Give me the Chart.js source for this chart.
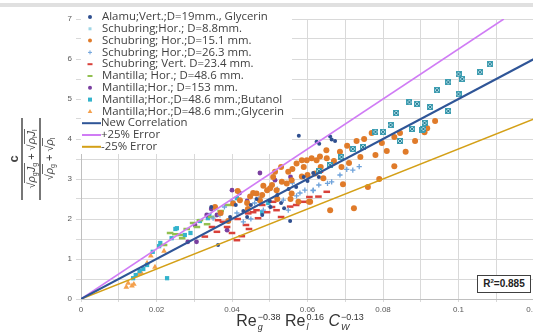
<!DOCTYPE html>
<html><head><meta charset="utf-8">
<script src="https://cdn.jsdelivr.net/npm/chart.js@4.4.1/dist/chart.umd.min.js"></script>
<style>
html,body{margin:0;padding:0;background:#fff;overflow:hidden;width:533px;height:332px;}
#wrap{position:relative;width:533px;height:332px;overflow:hidden;}
canvas{position:absolute;left:0;top:0;}
#band{position:absolute;left:0;top:3px;width:533px;height:4px;background:#e0e0e0;}
#yt{position:absolute;left:-10px;top:134px;width:84px;height:50px;transform:rotate(-90deg);font-family:'Liberation Sans',sans-serif;color:#444;text-align:center;font-size:11px;}
#yt .r1{height:14px;line-height:14px;font-weight:bold;font-size:13px;}
#yt .bar{height:0;border-top:2px solid #777;margin:0 1px;}
#yt .r2,#yt .r3{height:16px;line-height:17px;white-space:nowrap;}
#yt sub{font-size:7px;vertical-align:-2px;line-height:0;}
#yt .ov{border-top:1px solid #666;}
#xt{position:absolute;top:312px;left:190px;width:220px;text-align:center;font-family:'Liberation Sans',sans-serif;font-size:16px;color:#333;white-space:nowrap;line-height:16px;}
#xt .ss{display:inline-flex;flex-direction:column;font-size:9px;line-height:10px;vertical-align:middle;margin-left:1px;text-align:left;}
#xt .ss span:last-child{font-style:italic;}
#r2{position:absolute;left:477px;top:275px;width:52px;height:16px;border:1.5px solid #404040;background:#fff;font-family:'Liberation Sans',sans-serif;font-weight:bold;font-size:10px;line-height:16px;text-align:center;color:#222;}
#r2 sup{font-size:6px;line-height:0;}
</style></head>
<body>
<div id="wrap">
<canvas id="c" width="560" height="332"></canvas>
<div id="band"></div>
<div id="yt">
 <div class="r1">c</div>
 <div class="bar"></div>
 <div class="r2">√<span class="ov"><i>ρ</i><sub>g</sub><i>J</i><sub>g</sub></span> + √<span class="ov"><i>ρ</i><sub>l</sub><i>J</i><sub>l</sub></span></div>
 <div class="bar"></div>
 <div class="r3">√<span class="ov"><i>ρ</i><sub>g</sub></span> + √<span class="ov"><i>ρ</i><sub>l</sub></span></div>
</div>
<div id="xt">Re<span class="ss"><span>−0.38</span><span>g</span></span> Re<span class="ss"><span>0.16</span><span>l</span></span> <i>C</i><span class="ss"><span>−0.13</span><span>W</span></span></div>
<div id="r2">R<sup>2</sup>=0.885</div>
</div>
<script>
// ---------- DATA ----------
const seriesNames = [
  'Alamu;Vert.;D=19mm., Glycerin',
  'Schubring;Hor.; D=8.8mm.',
  'Schubring; Hor.;D=15.1 mm.',
  'Schubring; Hor.;D=26.3 mm.',
  'Schubring; Vert. D=23.4 mm.',
  'Mantilla; Hor.; D=48.6 mm.',
  'Mantilla;Hor.; D=153 mm.',
  'Mantilla;Hor.;D=48.6 mm.;Butanol',
  'Mantilla;Hor.;D=48.6 mm.;Glycerin'
];
const lineNames = ['New Correlation', '+25% Error', '-25% Error'];

const alamu = [[0.0363,1.35],[0.048,2.1],[0.0554,1.95],[0.0538,2.27],[0.0577,4.08],[0.0624,3.93],[0.0631,3.88],
  [0.066,4.06],[0.0664,3.99],[0.0673,3.95],[0.0395,2.05],[0.043,2.2],[0.045,2.35],[0.0465,2.5],[0.05,2.45],
  [0.052,2.6],[0.055,2.75],[0.057,2.8],[0.06,2.95],[0.059,3.05],[0.0615,3.15],[0.063,3.05],[0.041,2.35],
  [0.044,2.05],[0.0502,2.3],[0.053,2.4],[0.0345,2.3]];
const schub88 = [[0.087,4.92],[0.089,4.88],[0.0835,4.65],[0.082,4.35],[0.08,4.18],[0.078,4.18],[0.0877,4.25],
  [0.0845,3.95],[0.0904,4.23],[0.0747,3.8],[0.072,3.75],[0.1083,5.87],[0.1057,5.67],[0.1,5.62],[0.101,5.5],
  [0.0973,5.42],[0.0943,5.22],[0.1,5.12],[0.0925,4.8],[0.0973,4.7],[0.091,4.4],[0.0907,4.25],[0.069,3.55],
  [0.066,3.35],[0.063,3.2]];
const schub151 = [[0.039,1.95],[0.0442,2.25],[0.048,2.6],[0.0506,2.85],[0.0474,2.47],[0.0493,2.72],[0.0456,2.65],
  [0.0509,3.05],[0.044,2.4],[0.0403,2.39],[0.0421,2.47],[0.0448,2.56],[0.0465,2.64],[0.0483,2.83],[0.0501,2.77],
  [0.0518,2.72],[0.0558,2.64],[0.0576,2.43],[0.0607,2.43],[0.0514,3.18],[0.0532,2.93],[0.0549,3.18],[0.0571,3.39],
  [0.0585,3.47],[0.0598,3.47],[0.0611,3.52],[0.0624,3.47],[0.0633,3.56],[0.0651,3.52],[0.0545,2.89],[0.0558,2.97],
  [0.0585,3.06],[0.06,3.1],[0.062,3.14],[0.0642,3.02],[0.065,3.72],[0.0686,3.68],[0.0718,3.75],[0.0705,3.83],
  [0.073,3.95],[0.075,4.0],[0.077,4.15],[0.0797,3.9],[0.083,4.05],[0.0845,4.15],[0.0885,3.95],[0.086,3.68],
  [0.083,3.32],[0.079,3.0],[0.076,2.8],[0.0694,2.87],[0.066,2.22],[0.0723,2.27],[0.0604,2.43],[0.0938,4.45],
  [0.0917,4.27],[0.091,4.17],[0.067,3.45],[0.069,3.3],[0.071,3.4],[0.074,3.55],[0.078,3.6],[0.081,3.7],
  [0.0355,2.3],[0.037,2.15],[0.0415,2.7],[0.053,3.3],[0.056,3.25],[0.059,3.3],[0.0635,3.3],[0.052,2.5],[0.0555,2.5]];
const schub263 = [[0.0704,3.24],[0.0737,3.31],[0.072,3.22],[0.0686,3.1],[0.0653,2.89],[0.0615,2.71],[0.0664,2.93],
  [0.0368,2.1],[0.035,2.02],[0.0413,2.15],[0.046,2.4],[0.043,1.93],[0.0501,2.31],[0.0536,2.47],[0.0571,2.58],
  [0.0593,2.72],[0.0549,2.22],[0.0483,2.22],[0.0615,2.72],[0.038,2.3],[0.04,2.45],[0.052,2.75],[0.056,2.9],
  [0.058,2.65],[0.063,2.85],[0.045,2.0],[0.0476,2.55]];
const schubVert = [[0.0469,2.02],[0.0437,1.85],[0.0426,1.57],[0.0413,1.47],[0.0387,1.8],[0.0363,1.97],[0.0347,1.8],
  [0.0456,2.17],[0.0493,2.17],[0.0506,2.3],[0.048,2.35],[0.0376,1.93],[0.0465,2.22],[0.0518,2.22],[0.0554,2.31],
  [0.0509,2.43],[0.0443,2.14],[0.0589,2.43],[0.0629,2.56],[0.0651,2.68],[0.0633,3.18],[0.04,1.65],[0.0445,1.75],
  [0.053,2.05],[0.057,2.35],[0.0605,2.55],[0.0415,2.0],[0.0328,1.56],[0.036,1.68]];
const mant486 = [[0.025,1.62],[0.0307,1.8],[0.0268,1.52],[0.0334,1.87],[0.0315,1.97],[0.0297,1.9],[0.0262,1.6],
  [0.0236,1.65],[0.028,1.75],[0.022,1.35],[0.0345,2.05],[0.037,2.2],[0.039,2.35]];
const mant153 = [[0.0474,3.15],[0.04,2.72],[0.042,2.65],[0.0333,2.1],[0.0302,1.85],[0.0306,1.43],[0.0514,2.97],
  [0.0387,1.72],[0.0283,1.43],[0.036,2.1],[0.0345,2.25],[0.044,2.45],[0.0555,3.05]];
const mantBut = [[0.0138,0.52],[0.0228,0.52],[0.019,1.18],[0.0207,1.32],[0.025,1.75],[0.024,1.52],[0.029,1.65],
  [0.0175,0.85],[0.0336,2.02],[0.0254,1.77],[0.048,2.17],[0.0413,2.52],[0.0496,2.4],[0.0155,0.7],[0.021,1.4],
  [0.0275,1.6],[0.0315,1.95],[0.0145,0.6],[0.0165,0.75],[0.034,2.1]];
const mantGly = [[0.012,0.3],[0.014,0.37],[0.0153,0.62],[0.0196,0.8],[0.0185,1.08],[0.016,0.65],[0.0135,0.33],
  [0.0125,0.4],[0.0175,0.9],[0.022,1.2]];

const newCorr = [[0,0],[0.12,6.0]];
const plus25 = [[0,0],[0.112,7.0]];
const minus25 = [[0,0],[0.12,4.5]];

const xTickLabels = ['0','0.02','0.04','0.06','0.08','0.1','0.12'];
const yTickLabels = ['0','1','2','3','4','5','6','7'];

// ---------- STYLE ----------
function xBoxImg(){
  const c=document.createElement('canvas');c.width=6;c.height=6;const g=c.getContext('2d');
  g.fillStyle='#a9dde8';g.fillRect(0,0,6,6);g.strokeStyle='#3d9fb3';g.lineWidth=1;g.strokeRect(0.5,0.5,5,5);
  g.beginPath();g.moveTo(1,1);g.lineTo(5,5);g.moveTo(5,1);g.lineTo(1,5);g.strokeStyle='#2f7f95';g.stroke();
  return c;
}
const xImg = xBoxImg();
const pts = a => a.map(p=>({x:p[0],y:p[1]}));
const styles = [
  {data:alamu, type:'circle', color:'#2f4f8f', r:2},
  {data:schub88, type:'img', color:'#4bb4c8', r:3},
  {data:schub151, type:'circle', color:'#e07b2a', r:3},
  {data:schub263, type:'cross', color:'#6fa3db', r:2.6},
  {data:schubVert, type:'line', color:'#d9413a', r:3.3},
  {data:mant486, type:'line', color:'#92c050', r:3.3},
  {data:mant153, type:'circle', color:'#7a3fa0', r:2.4},
  {data:mantBut, type:'rect', color:'#33b3cc', r:3},
  {data:mantGly, type:'triangle', color:'#f4a04c', r:3.3}
];
const lineColors = ['#2f5597','#d07cf5','#d4a017'];

const datasets = [];
[newCorr,plus25,minus25].forEach((d,i)=>datasets.push({
  label:lineNames[i], data:pts(d), type:'line', showLine:true, pointRadius:0,
  borderColor:lineColors[i], borderWidth:i===0?2:1.6, order:0, fill:false
}));
styles.forEach((s,i)=>{
  const ds = {label:seriesNames[i], data:pts(s.data), order:1+i, pointRadius:s.r, pointHoverRadius:s.r};
  if(s.type==='img'){ds.pointStyle=xImg;}
  else ds.pointStyle=s.type;
  if(s.type==='line'){ds.borderColor=s.color;ds.borderWidth=2.5;ds.backgroundColor=s.color;}
  else if(s.type==='cross'){ds.borderColor=s.color;ds.borderWidth=1.3;ds.backgroundColor=s.color;}
  else {ds.backgroundColor=s.color;ds.borderColor=s.color;ds.borderWidth=0;}
  datasets.push(ds);
});

function drawMark(ctx,s,x,y){
  ctx.save();
  ctx.fillStyle=s.color;ctx.strokeStyle=s.color;
  const r=s.type==='circle'?2:2.2;
  if(s.type==='circle'){ctx.beginPath();ctx.arc(x,y,r,0,Math.PI*2);ctx.fill();}
  else if(s.type==='img'){ctx.fillStyle='#9fd6e6';ctx.fillRect(x-1.5,y-1.5,3,3);}
  else if(s.type==='cross'){ctx.lineWidth=1;ctx.beginPath();ctx.moveTo(x-2,y);ctx.lineTo(x+2,y);ctx.moveTo(x,y-2);ctx.lineTo(x,y+2);ctx.stroke();}
  else if(s.type==='line'){ctx.lineWidth=2;ctx.beginPath();ctx.moveTo(x-2.5,y);ctx.lineTo(x+2.5,y);ctx.stroke();}
  else if(s.type==='rect'){ctx.fillRect(x-2,y-2,4,4);}
  else if(s.type==='triangle'){ctx.beginPath();ctx.moveTo(x,y-2.5);ctx.lineTo(x+2.3,y+1.5);ctx.lineTo(x-2.3,y+1.5);ctx.closePath();ctx.fill();}
  ctx.restore();
}

const legendPlugin = {
  id:'boxLegend',
  beforeDatasetsDraw(chart){
    const ctx=chart.ctx;
    ctx.save();
    ctx.fillStyle='#ffffff';
    ctx.fillRect(81,8,211,146);
    ctx.font='10px "Open Sans"';
    const w10=ctx.measureText(seriesNames[0]).width;
    const fs=10*166/w10;
    ctx.font=fs.toFixed(2)+'px "Open Sans"';
    ctx.fillStyle='#404040';ctx.textBaseline='middle';
    const rowH=11.8, y0=17;
    styles.forEach((s,i)=>{
      const y=y0+i*rowH;
      drawMark(ctx,s,90,y);
      ctx.fillStyle='#404040';
      ctx.fillText(seriesNames[i],102,y);
    });
    lineNames.forEach((n,j)=>{
      const y=y0+(styles.length+j)*rowH;
      ctx.strokeStyle=lineColors[j];ctx.lineWidth=2;
      ctx.beginPath();ctx.moveTo(82,y);ctx.lineTo(101,y);ctx.stroke();
      ctx.fillStyle='#404040';
      ctx.fillText(n,101,y);
    });
    ctx.restore();
  }
};

new Chart(document.getElementById('c'),{
  type:'scatter',
  data:{datasets},
  plugins:[legendPlugin],
  options:{
    responsive:false, animation:false, devicePixelRatio:1,
    layout:{padding:{top:19,right:26,bottom:0,left:0}},
    plugins:{legend:{display:false},tooltip:{enabled:false}},
    scales:{
      x:{type:'linear',min:0,max:0.12,
        afterFit:s=>{s.height=33;},
        grid:{color:'#d9d9d9',lineWidth:1,tickLength:3},
        border:{color:'#bfbfbf'},
        ticks:{stepSize:0.01,autoSkip:false,maxRotation:0,padding:3,color:'#595959',
          font:{family:'Liberation Sans',size:8},
          callback:(v)=>{const k=Math.round(v*100);return k%2===0?xTickLabels[k/2]:'';}}
      },
      y:{type:'linear',min:0,max:7,
        afterFit:s=>{s.width=81;},
        grid:{color:'#d9d9d9',lineWidth:1,tickLength:5},
        border:{color:'#bfbfbf'},
        ticks:{stepSize:0.5,autoSkip:false,padding:4,color:'#595959',
          font:{family:'Liberation Sans',size:8},
          callback:(v)=>Number.isInteger(v)?yTickLabels[v]:''}
      }
    }
  }
});
</script>
</body></html>
